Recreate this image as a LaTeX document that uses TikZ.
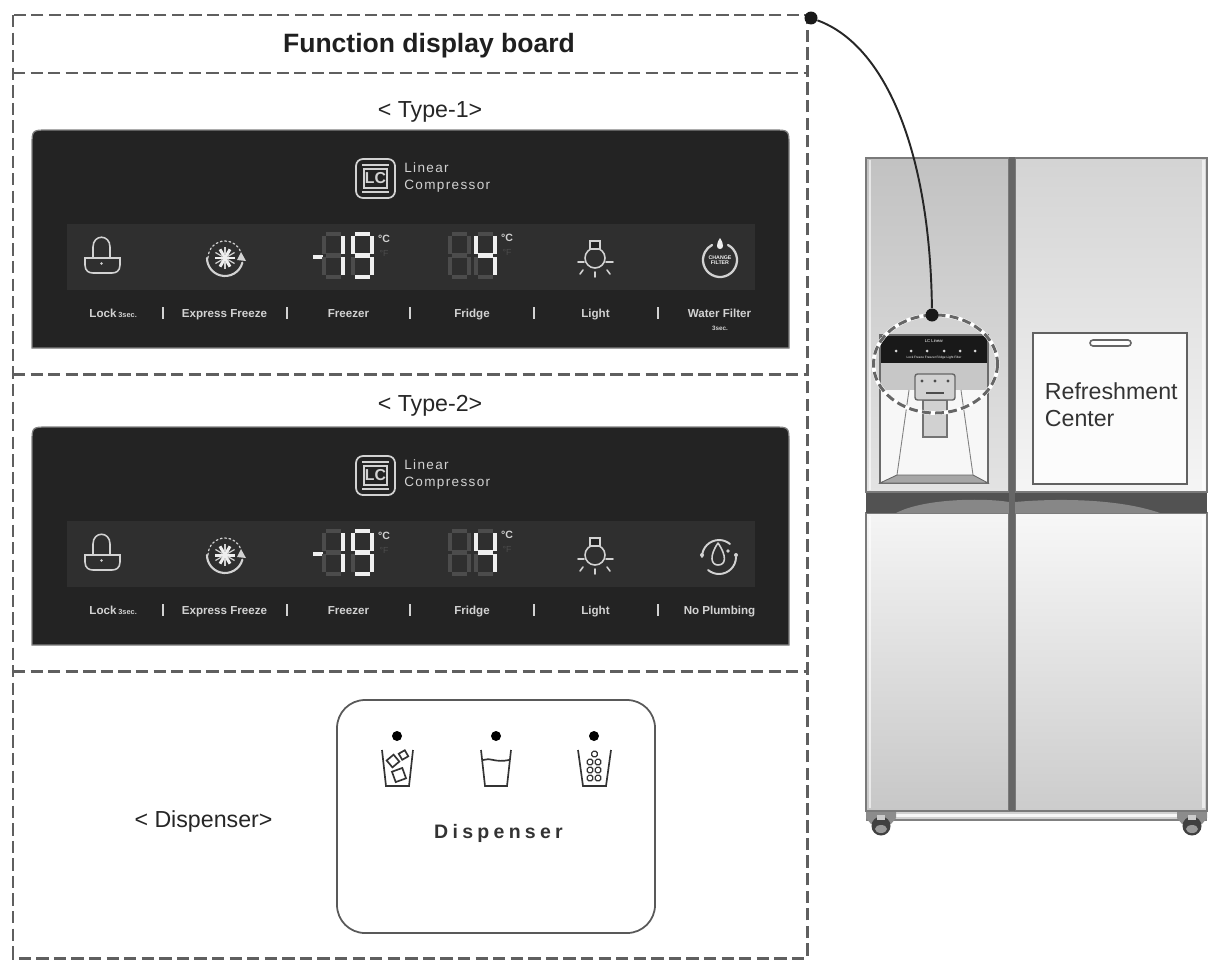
\documentclass[tikz,border=0pt]{standalone}
\usepackage{fontspec}
\setmainfont{Liberation Sans}
\newfontfamily\spacedfont[LetterSpace=10]{Liberation Sans}
\newfontfamily\widefont[LetterSpace=22]{Liberation Sans}
\newcommand{\fsz}[1]{\fontsize{#1pt}{#1pt}\selectfont}
\definecolor{panel}{HTML}{232323}
\definecolor{strip}{HTML}{2F2F2F}
\definecolor{lit}{HTML}{EFEFEF}
\definecolor{dimseg}{HTML}{4C4C4C}
\definecolor{icon}{HTML}{D2D2D2}
\definecolor{frameline}{HTML}{5F5F5F}
\tikzset{
  x=0.02cm,y=-0.02cm,
  dashbox/.style={draw=frameline,line width=1.7pt,dash pattern=on 7pt off 3pt},
  heading/.style={font=\fsz{13.2},text=black!85,inner sep=0pt},
  paneltext/.style={font=\fsz{6.6}\bfseries,text=icon,inner sep=0pt,anchor=base},
  sepbar/.style={draw=icon,line width=0.8pt},
  iconline/.style={draw=icon,line width=0.9pt,line cap=round},
  cupline/.style={draw=black!80,line width=0.95pt},
  fridgeline/.style={draw=black!58,line width=0.8pt},
  dot/.style={circle,fill=black,inner sep=0pt,minimum size=0.2cm},
  bigdot/.style={circle,fill=black!90,inner sep=0pt,minimum size=0.26cm},
}
% seven-segment helper
\newcommand{\seg}[2]{\ifcase#2
  \draw[#1](3,1)--(18,1);\or
  \draw[#1](1,3)--(1,21);\or
  \draw[#1](20,3)--(20,21);\or
  \draw[#1](3,22.5)--(18,22.5);\or
  \draw[#1](1,24)--(1,42);\or
  \draw[#1](20,24)--(20,42);\or
  \draw[#1](3,44)--(18,44);\fi}
\newcommand{\digit}[3]{\begin{scope}[shift={(#1,#2)}]
  \foreach \s in {0,...,6}{\seg{draw=dimseg,line width=2.3pt}{\s}}
  \foreach \s in {#3}{\seg{draw=lit,line width=2.3pt}{\s}}
\end{scope}}
% control panel: #1 name, #2 y offset, #3 last icon, #4 last label
\newcommand{\ctrlpanel}[4]{\begin{scope}[shift={(0,#2)}]
  \fill[panel,draw=black!50,line width=0.7pt] (32,348) -- (32,146) .. controls (32,130) and (32,130) .. (48,130) -- (773,130) .. controls (789,130) and (789,130) .. (789,146) -- (789,348) -- cycle;
  \fill[strip] (67,224) rectangle (755,290);
  % LC logo
  \draw[icon,line width=1pt,rounded corners=0.14cm] (356,159) rectangle (395,198);
  \draw[icon,line width=0.9pt] (362,165) -- (389,165) (362,192) -- (389,192);
  \node[inner sep=0pt,font=\fsz{9}\bfseries,text=icon] (#1lc) at (375.5,178.5) {LC};
  \draw[icon,line width=0.6pt] (364,169) rectangle (387,188);
  \node[anchor=west,inner sep=0pt,font=\spacedfont\fsz{7.7},text=icon] (#1la) at (404,168) {Linear};
  \node[anchor=west,inner sep=0pt,font=\spacedfont\fsz{7.7},text=icon] (#1lb) at (404,186) {Compressor};
  % lock
  \draw[iconline] (85,258) -- (120,258) -- (120,265) .. controls (120,271) and (116,273) .. (112,273) -- (93,273) .. controls (89,273) and (85,271) .. (85,265) -- cycle;
  \draw[iconline] (93,258) -- (93,247) .. controls (93,234) and (110,234) .. (110,247) -- (110,258);
  \fill[icon] (101.5,263.5) circle (1.3);
  % express freeze
  \draw[iconline,line width=1.2pt] (225,258) ++(15:18) arc (15:180:18);
  \draw[iconline,dash pattern=on 1pt off 1.5pt,line width=0.7pt] (225,258) ++(180:17) arc (180:340:17);
  \fill[icon] (241,252) -- (246,261) -- (237,260) -- cycle;
  \foreach \a in {0,60,120}{\draw[draw=lit,line width=1.7pt] (225,258)++(\a:10) -- ++(\a+180:20);}
  \foreach \a in {30,90,150,210,270,330}{\draw[draw=icon,line width=0.7pt] (225,258)++(\a:3) -- ++(\a:8);}
  % digits
  \draw[draw=lit,line width=2.6pt] (313,257) -- (323,257);
  \digit{323}{233}{2,5}
  \digit{352}{233}{0,1,2,3,5,6}
  \node[inner sep=0pt,font=\fsz{6}\bfseries,text=icon] (#1ca) at (384,239) {°C};
  \node[inner sep=0pt,font=\fsz{5},text=dimseg] (#1fa) at (384,253) {°F};
  \digit{449}{233}{}
  \digit{475}{233}{1,2,3,5}
  \node[inner sep=0pt,font=\fsz{6}\bfseries,text=icon] (#1cb) at (507,238) {°C};
  \node[inner sep=0pt,font=\fsz{5},text=dimseg] (#1fb) at (507,252) {°F};
  % bulb
  \draw[iconline] (595,258) circle (10);
  \draw[iconline,fill=panel] (590,241) rectangle (600,249);
  \draw[iconline] (578,262) -- (584,262) (606,262) -- (613,262) (583,270) -- (580,274) (607,270) -- (610,274) (595,272) -- (595,277);
  #3
  % labels
  \node[paneltext] (#1ll) at (103,317) {Lock};
  \node[paneltext,anchor=base west,font=\fsz{4.2}\bfseries] (#1ls) at (118,317) {3sec.};
  \node[paneltext] (#1ef) at (224.5,317) {Express Freeze};
  \node[paneltext] (#1fz) at (348.5,317) {Freezer};
  \node[paneltext] (#1fr) at (472,317) {Fridge};
  \node[paneltext] (#1li) at (595.5,317) {Light};
  #4
  \foreach \x in {163,287,410,534,658}{\draw[sepbar] (\x,307) -- (\x,319);}
\end{scope}}
\begin{document}
\begin{tikzpicture}
\useasboundingbox[fill=white] (0,0) rectangle (1212,960);
% dashed frames
\draw[dashbox] (13,15) rectangle (807,958);
\draw[dashbox] (13,73) -- (807,73);
\draw[dashbox] (13,374) -- (807,374);
\draw[dashbox] (13,671) -- (807,671);
\node[inner sep=0pt,font=\fsz{15.1}\bfseries,text=black!88] (title) at (429,46) {Function display board};
\node[heading] (type1) at (430,112) {< Type-1>};
\node[heading] (type2) at (430,406) {< Type-2>};
\node[heading] (disp) at (203.5,821) {< Dispenser>};
\ctrlpanel{a}{0}{
  \draw[iconline,line width=1.3pt] (720,260) ++(-62:17) arc (-62:242:17);
  \fill[lit] (720,238) .. controls (716,244) and (716,249) .. (720,249) .. controls (724,249) and (724,244) .. (720,238);
  \node[inner sep=0pt,font=\fsz{3}\bfseries,text=lit,align=center] (achange) at (720,260) {CHANGE\\[-0.4pt]FILTER};
}{
  \node[paneltext] (awf) at (719.5,317) {Water Filter};
  \node[paneltext,font=\fsz{3.6}\bfseries] (asec) at (720,330) {3sec.};
}
\ctrlpanel{b}{297}{
  \draw[iconline,line width=1.1pt] (719,260) ++(180:17) arc (180:310:17);
  \draw[iconline,line width=1.1pt] (719,260) ++(0:17) arc (0:130:17);
  \fill[icon] (702,258) circle (2) (736,258) circle (2);
  \draw[iconline] (718,246) .. controls (709,259) and (711,268) .. (718,268) .. controls (726,268) and (727,259) .. (718,246);
  \fill[icon] (728,254) circle (1.8);
}{
  \node[paneltext] (bnp) at (719.5,317) {No Plumbing};
}
% dispenser
\draw[draw=black!65,line width=1pt,rounded corners=0.56cm] (337,700) rectangle (655,933);
\node[dot] (d1) at (397,736) {};
\node[dot] (d2) at (496,736) {};
\node[dot] (d3) at (594,736) {};
\draw[cupline] (382,750) -- (386,786) -- (409,786) -- (413,750);
\draw[cupline] (481,750) -- (485,786) -- (507,786) -- (511,750);
\draw[cupline] (578,750) -- (583,786) -- (606,786) -- (611,750);
\draw[cupline,rotate around={40:(393,761)}] (388.5,756.5) rectangle (397.5,765.5);
\draw[cupline,rotate around={30:(403.5,755)}] (400,751.5) rectangle (407,758.5);
\draw[cupline,rotate around={20:(399,775)}] (393.5,769.5) rectangle (404.5,780.5);
\draw[cupline] (483,760) .. controls (490,757) and (495,763) .. (509,760);
\foreach \x/\y in {594.5/754,590/762,598/762,590/770,598/770,590/778,598/778}{\draw[cupline,line width=0.7pt,rounded corners=0.03cm] (\x-2.7,\y-2.7) rectangle (\x+2.7,\y+2.7);}
\node[inner sep=0pt,font=\widefont\fsz{11.1}\bfseries,text=black!80] (dispt) at (498.5,833) {Dispenser};
% fridge body
\fill[black!22] (866,157) rectangle (1207,812);
\fill[black!18,draw=black!50,line width=0.7pt] (867,811) rectangle (1206,820);
\fill[black!3] (880,814) rectangle (1195,817);
\shade[top color=black!24,bottom color=black!11,draw=black!52,line width=0.8pt] (866,158) rectangle (1009,492);
\shade[top color=black!17,bottom color=black!4,draw=black!52,line width=0.8pt] (1015,158) rectangle (1207,492);
\shade[top color=black!4,bottom color=black!22,draw=black!52,line width=0.8pt] (866,513) rectangle (1009,811);
\shade[top color=black!3,bottom color=black!20,draw=black!52,line width=0.8pt] (1015,513) rectangle (1207,811);
\fill[white,opacity=0.6] (868.5,160) rectangle (871,490);
\fill[white,opacity=0.6] (1202,160) rectangle (1204.5,490);
\fill[white,opacity=0.6] (868.5,516) rectangle (871,808);
\fill[white,opacity=0.6] (1202,516) rectangle (1204.5,808);
% middle band
\fill[black!68] (866,493) rectangle (1207,513);
\fill[black!47] (896,513) .. controls (925,498) and (985,498) .. (1009,502) -- (1015,502) .. controls (1060,498) and (1120,499) .. (1160,513) -- cycle;
\fill[black!60] (1009,157) rectangle (1015,811);
% dispenser recess on fridge
\fill[black!3] (880,335) rectangle (988,483);
\fill[black!90] (880,335) rectangle (988,363);
\fill[black!22] (880,363) rectangle (988,390);
\draw[fridgeline] (880,335) rectangle (988,483);
\draw[black!50,line width=0.5pt] (909,390) -- (897,475) (961,390) -- (973,475);
\fill[black!35,draw=black!60,line width=0.5pt] (897,475) -- (973,475) -- (988,483) -- (880,483) -- cycle;
\fill[black!18,draw=black!55,line width=0.6pt] (923,400) rectangle (947,437);
\fill[black!18,draw=black!60,line width=0.8pt,rounded corners=0.05cm] (915,374) rectangle (955,400);
\foreach \x in {922,935,948}{\fill[black!70] (\x,381) circle (1.7);}
\fill[black!70] (926,392) rectangle (944,394);
\node[inner sep=0pt,font=\fsz{2.4},text=white] (mini) at (934,341) {LC Linear};
\node[inner sep=0pt,font=\fsz{1.8},text=white] (minib) at (934,358) {Lock Freeze Freezer Fridge Light Filter};
\foreach \x in {896,911,927,944,960,975}{\fill[white!85!black] (\x,351) circle (1.5);}
% dashed ellipse
\draw[white,line width=2.2pt] (935.5,364) ellipse (62 and 49);
\draw[black!60,line width=1.7pt,dash pattern=on 5pt off 2.5pt] (935.5,364) ellipse (62 and 49);
% refreshment centre
\fill[black!1,draw=black!62,line width=1pt] (1033,333) rectangle (1187,484);
\fill[white,draw=black!60,line width=0.9pt,rounded corners=0.06cm] (1090,340) rectangle (1131,346);
\node[anchor=west,inner sep=0pt,font=\fsz{13.2},text=black!80] (rf1) at (1044.5,391) {Refreshment};
\node[anchor=west,inner sep=0pt,font=\fsz{13.2},text=black!80] (rf2) at (1044.5,419) {Center};
% feet
\foreach \x in {881,1192}{
  \fill[black!45] (\x-15,812) -- (\x+15,812) -- (\x+15,818) -- (\x+10,824) -- (\x-10,824) -- (\x-15,818) -- cycle;
  \fill[black!75] (\x,826) circle (9.5);
  \fill[black!40] (\x,829) ellipse (6 and 4);
  \fill[black!20] (\x-4,815) rectangle (\x+4,820);
}
% connector
\node[bigdot] (src) at (811,18) {};
\node[bigdot] (dst) at (932,315) {};
\draw[black!85,line width=1.1pt] (src) .. controls (885,45) and (930,150) .. (dst);
\end{tikzpicture}
\end{document}
